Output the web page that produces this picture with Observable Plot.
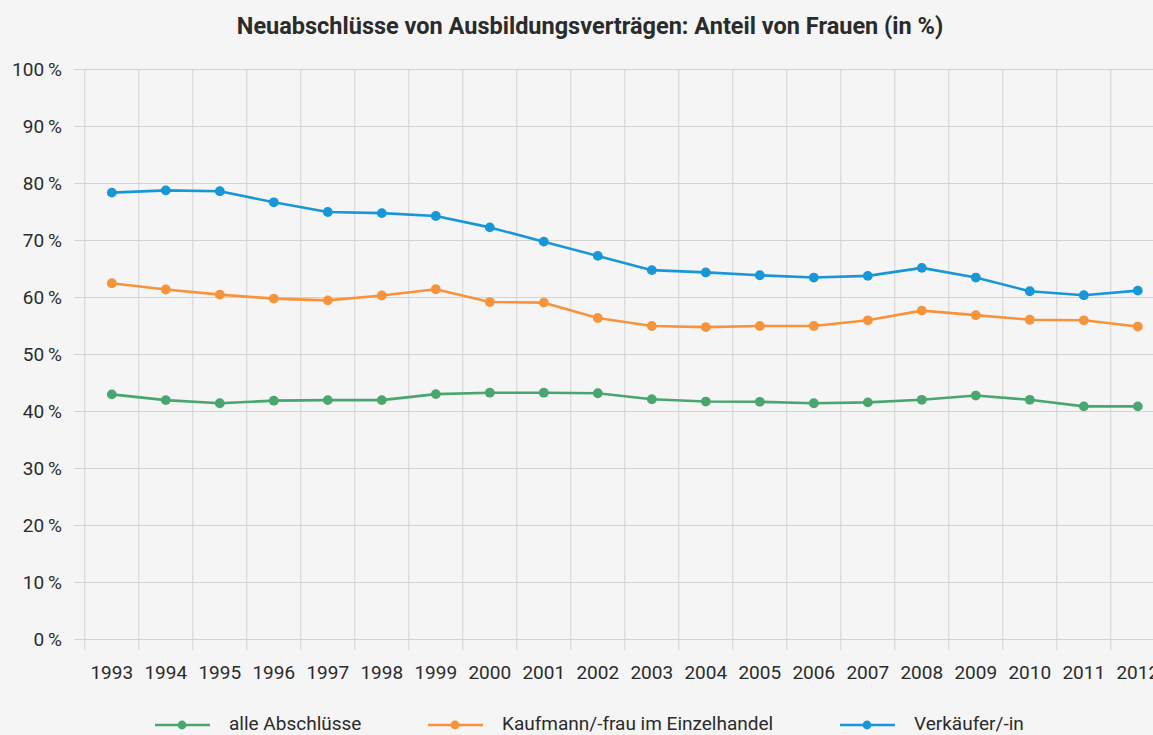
<!DOCTYPE html>
<html><head><meta charset="utf-8">
<script src="https://cdn.jsdelivr.net/npm/d3@7"></script>
<script src="https://cdn.jsdelivr.net/npm/@observablehq/plot@0.6"></script>
<style>
html,body{margin:0;padding:0;background:#f4f5f4;overflow:hidden;width:1153px;height:735px;}
body{font-family:Roboto,"Noto Sans",sans-serif;color:#2b2b2b;}
#title{height:50px;line-height:52px;text-align:center;padding-left:27px;font-weight:700;font-size:23.5px;white-space:nowrap;}
#chart svg{display:block;overflow:hidden;}
#legend svg{display:block;}
</style></head><body>
<div id="title">Neuabschlüsse von Ausbildungsverträgen: Anteil von Frauen (in %)</div>
<div id="chart"></div>
<div id="legend"></div>
<script>
const years = [1993,1994,1995,1996,1997,1998,1999,2000,2001,2002,2003,2004,2005,2006,2007,2008,2009,2010,2011,2012];
const alleAbschluesse = [43.0,42.0,41.45,41.9,42.0,42.0,43.05,43.3,43.3,43.2,42.15,41.75,41.7,41.45,41.6,42.05,42.8,42.05,40.9,40.9];
const kaufmannFrau = [62.5,61.4,60.5,59.8,59.5,60.35,61.45,59.2,59.1,56.4,55.0,54.8,55.0,55.0,56.0,57.7,56.9,56.1,56.0,54.9];
const verkaeuferIn = [78.4,78.8,78.65,76.7,75.0,74.8,74.3,72.3,69.8,67.3,64.8,64.4,63.9,63.5,63.8,65.2,63.5,61.1,60.4,61.2];
const seriesNames = ["alle Abschlüsse","Kaufmann/-frau im Einzelhandel","Verkäufer/-in"];
const seriesColors = ["#4aa66f","#f7943b","#1797d7"];
const yTicks = [0,10,20,30,40,50,60,70,80,90,100];

const seriesValues = [alleAbschluesse, kaufmannFrau, verkaeuferIn];
const data = seriesNames.flatMap((name, s) => years.map((yr, i) => ({year: yr, value: seriesValues[s][i], series: name})));
const edges = years.map(y => y - 0.5).concat([years[years.length-1] + 0.5]);

const gridColor = "#d3d3d3";
const textColor = "#2b2b2b";

const chart = Plot.plot({
  width: 1153, height: 640,
  marginTop: 19, marginBottom: 51, marginLeft: 84, marginRight: 0,
  style: {background: "transparent", color: textColor, fontFamily: "Roboto, 'Noto Sans', sans-serif", fontSize: "19px", overflow: "hidden"},
  x: {domain: [edges[0], edges[edges.length-1]], range: [84.3, 1164.3]},
  y: {domain: [0, 100]},
  color: {domain: seriesNames, range: seriesColors},
  marks: [
    Plot.gridY(yTicks, {stroke: gridColor, strokeOpacity: 1}),
    Plot.gridX(edges, {stroke: gridColor, strokeOpacity: 1}),
    Plot.axisY(yTicks, {tickSize: 10, tickPadding: 12.6, stroke: gridColor, fill: textColor, tickFormat: d => `${d}\u2009%`, label: null}),
    Plot.axisX(edges, {tickSize: 11, stroke: gridColor, tickFormat: () => "", label: null}),
    Plot.axisX(years, {tickSize: 0, tickPadding: 26, fill: textColor, tickFormat: d => String(d), label: null}),
    Plot.line(data, {x: "year", y: "value", z: "series", stroke: "series", strokeWidth: 2.6}),
    Plot.dot(data, {x: "year", y: "value", fill: "series", r: 4.9})
  ]
});
document.getElementById("chart").appendChild(chart);

// legend
const legendX = [155, 428, 840];
const lsvg = d3.select("#legend").append("svg").attr("width", 1153).attr("height", 45);
seriesNames.forEach((name, i) => {
  const g = lsvg.append("g").attr("transform", `translate(${legendX[i]},0)`);
  g.append("line").attr("x1", 0).attr("x2", 55).attr("y1", 35).attr("y2", 35)
    .attr("stroke", seriesColors[i]).attr("stroke-width", 2.6);
  g.append("circle").attr("cx", 27).attr("cy", 35).attr("r", 4.4).attr("fill", seriesColors[i]);
  g.append("text").attr("x", 74).attr("y", 40).attr("fill", textColor)
    .style("font-family", "Roboto, 'Noto Sans', sans-serif").style("font-size", "19px").text(name);
});
</script>
</body></html>
